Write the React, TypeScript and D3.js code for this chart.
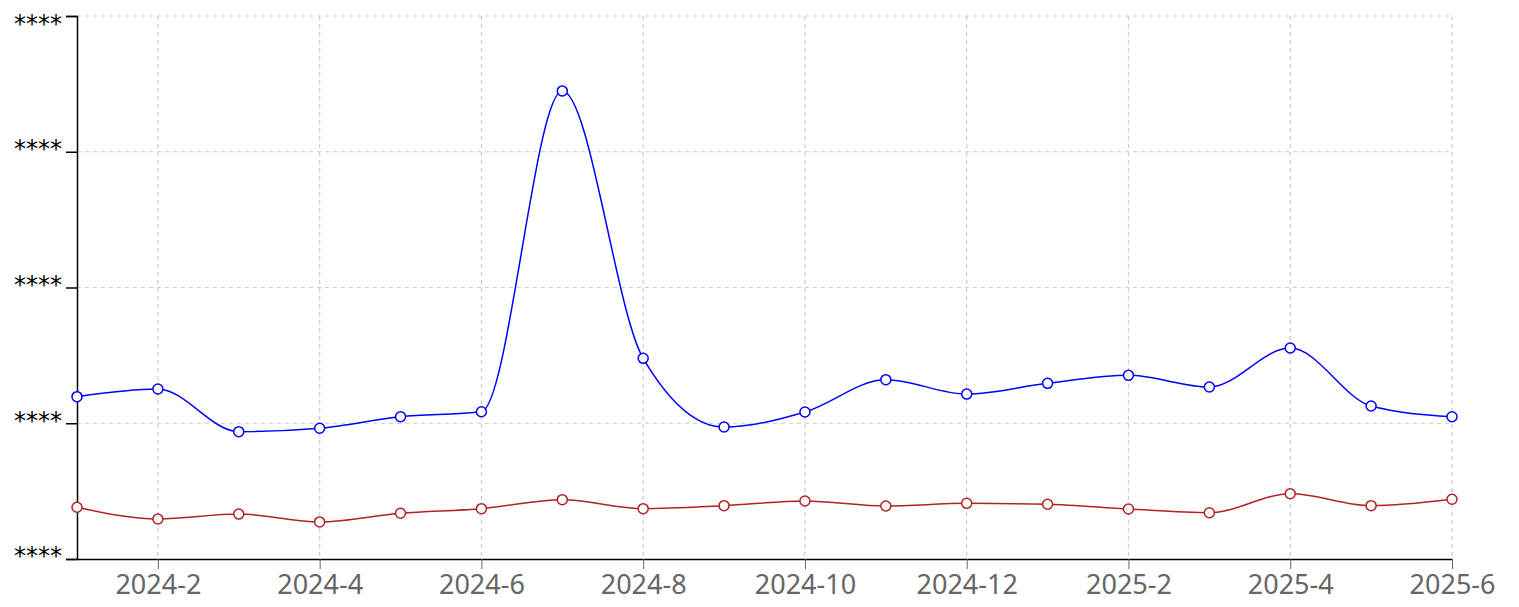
import { useEffect, useRef } from 'react';
import * as d3 from 'd3';

const months = [
  '2024-1', '2024-2', '2024-3', '2024-4', '2024-5', '2024-6', '2024-7', '2024-8', '2024-9',
  '2024-10', '2024-11', '2024-12', '2025-1', '2025-2', '2025-3', '2025-4', '2025-5', '2025-6',
];
const blueValues = [119.6, 125.2, 93.8, 96.3, 104.8, 108.5, 344.8, 147.8, 97.2, 108.3, 132.1, 121.5, 129.4, 135.3, 126.7, 155.4, 112.7, 104.8];
const redValues = [38.1, 29.5, 33.1, 27.3, 33.7, 37.1, 43.7, 37.1, 39.3, 42.7, 39.0, 41.0, 40.3, 36.8, 34.1, 48.1, 39.3, 44.0];
const xTickLabels = ['2024-2', '2024-4', '2024-6', '2024-8', '2024-10', '2024-12', '2025-2', '2025-4', '2025-6'];
const yTicks = [0, 100, 200, 300, 400];
const yTickLabel = '****';

const W = 1519;
const H = 607;

export default function App() {
  const svgRef = useRef<SVGSVGElement>(null);

  useEffect(() => {
    document.body.style.margin = '0';
    if (!svgRef.current) return;
    const svg = d3.select(svgRef.current);
    svg.selectAll('*').remove();

    const margin = { top: 16, right: 67, bottom: 48, left: 77 };
    const innerW = W - margin.left - margin.right;
    const innerH = H - margin.top - margin.bottom;
    const g = svg.append('g').attr('transform', `translate(${margin.left},${margin.top})`);

    const x = d3.scalePoint<string>().domain(months).range([0, innerW]);
    const y = d3.scaleLinear().domain([0, 400]).range([innerH, 0]);

    // grid
    g.selectAll('.gy').data(yTicks.slice(1)).join('line')
      .attr('x1', 0).attr('x2', innerW)
      .attr('y1', d => y(d)).attr('y2', d => y(d))
      .attr('stroke', '#ccc').attr('stroke-width', 1.2).attr('stroke-dasharray', '4,4');
    g.selectAll('.gx').data(xTickLabels).join('line')
      .attr('x1', d => x(d)!).attr('x2', d => x(d)!)
      .attr('y1', 0).attr('y2', innerH)
      .attr('stroke', '#ccc').attr('stroke-width', 1.2).attr('stroke-dasharray', '4,4');

    // axes
    const xAxis = g.append('g').attr('transform', `translate(0,${innerH})`)
      .call(d3.axisBottom(x).tickValues(xTickLabels).tickSize(10).tickSizeOuter(0).tickPadding(6));
    xAxis.selectAll('text').attr('fill', '#666').attr('font-size', 27).attr('font-family', '"Noto Sans", sans-serif');
    xAxis.selectAll('line').attr('stroke', '#666');

    const yAxis = g.append('g')
      .call(d3.axisLeft(y).tickValues(yTicks).tickSize(11).tickSizeOuter(11).tickPadding(4).tickFormat(() => yTickLabel));
    // the top label sits below its tick so it stays inside the view
    yAxis.selectAll<SVGTextElement, number>('text').attr('fill', '#000').attr('font-size', 24)
      .attr('font-family', '"DejaVu Sans", sans-serif')
      .attr('dy', d => (d === yTicks[yTicks.length - 1] ? '0.66em' : '0.2em'));
    g.selectAll('.domain').attr('stroke', '#000').attr('stroke-width', 1.5);
    yAxis.selectAll('line').attr('stroke', '#000').attr('stroke-width', 1.5);

    const line = d3.line<number>()
      .x((_, i) => x(months[i])!)
      .y(d => y(d))
      .curve(d3.curveMonotoneX);

    const series: [number[], string][] = [[redValues, '#b22222'], [blueValues, '#0000ff']];
    series.forEach(([vals, color]) => {
      g.append('path').datum(vals).attr('d', line)
        .attr('fill', 'none').attr('stroke', color).attr('stroke-width', 1.5);
      g.append('g').selectAll('circle').data(vals).join('circle')
        .attr('cx', (_, i) => x(months[i])!).attr('cy', d => y(d))
        .attr('r', 5).attr('fill', '#fff').attr('stroke', color).attr('stroke-width', 1.5);
    });
  }, []);

  return <svg ref={svgRef} width={W} height={H} style={{ display: 'block', background: '#fff' }} />;
}
